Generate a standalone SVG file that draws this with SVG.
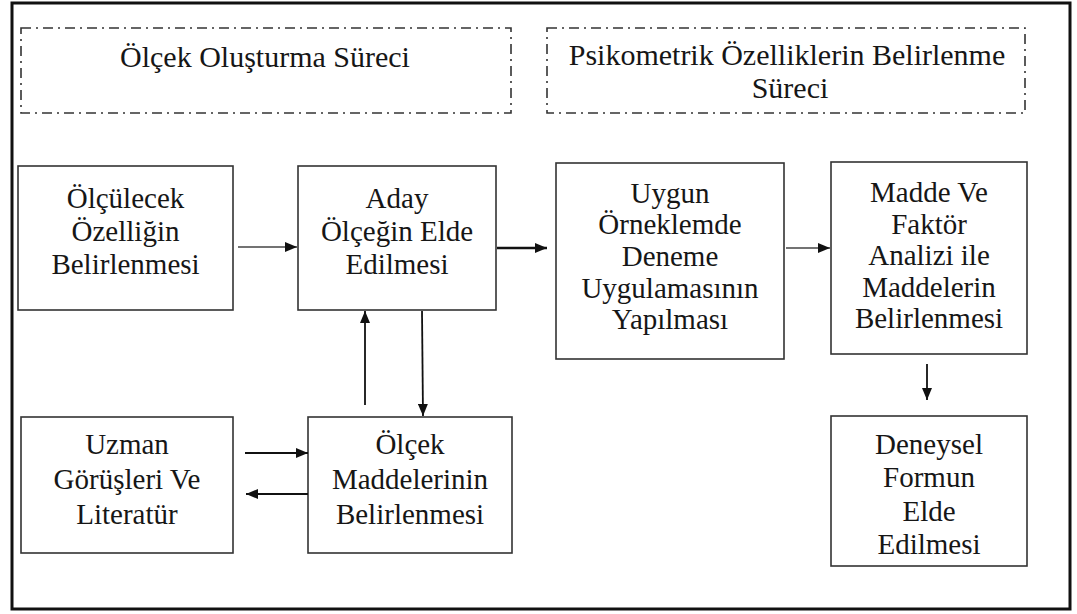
<svg xmlns="http://www.w3.org/2000/svg" width="1077" height="614" viewBox="0 0 1077 614">
<style>
  .frame{fill:none;stroke:#111;stroke-width:3}
  .dash{fill:none;stroke:#333;stroke-width:1.6;stroke-dasharray:10 5 2 5}
  .box{fill:#fff;stroke:#333;stroke-width:1.6}
  text{font-family:"Liberation Serif","Times New Roman",serif;font-size:29px;fill:#161616;text-anchor:middle}
  .h{font-size:30px}
  .ln{stroke:#111;stroke-width:1.8;fill:none}
  .thin{stroke:#444;stroke-width:1.4}
  .thick{stroke-width:2.6}
</style>
<defs>
  <marker id="ah" viewBox="0 0 12 10" refX="12" refY="5" markerWidth="12" markerHeight="10" markerUnits="userSpaceOnUse" orient="auto">
    <path d="M0,0 L12,5 L0,10 Z" fill="#111"/>
  </marker>
</defs>
<rect width="1077" height="614" fill="#fff"/>
<rect class="frame" x="12" y="3" width="1058" height="606"/>

<g id="section1" font-family="Liberation Serif, serif">
  <rect class="dash" x="21" y="28" width="490" height="85"/>
  <text class="h" x="265" y="67">Ölçek Oluşturma Süreci</text>
</g>
<g id="section2" font-family="Liberation Serif, serif">
  <rect class="dash" x="547" y="28" width="478" height="85"/>
  <text class="h" x="787" y="65">Psikometrik Özelliklerin Belirlenme</text>
  <text class="h" x="790" y="98">Süreci</text>
</g>

<g id="nodeA" font-family="Liberation Serif, serif">
  <rect class="box" x="18" y="166" width="215" height="144"/>
  <text x="125.5" y="208">Ölçülecek</text>
  <text x="125.5" y="241">Özelliğin</text>
  <text x="125.5" y="274">Belirlenmesi</text>
</g>
<g id="nodeB" font-family="Liberation Serif, serif">
  <rect class="box" x="298" y="166" width="198" height="144"/>
  <text x="397" y="208">Aday</text>
  <text x="397" y="241">Ölçeğin Elde</text>
  <text x="397" y="274">Edilmesi</text>
</g>
<g id="nodeC" font-family="Liberation Serif, serif">
  <rect class="box" x="556" y="163" width="228" height="196"/>
  <text x="670" y="203">Uygun</text>
  <text x="670" y="234">Örneklemde</text>
  <text x="670" y="266">Deneme</text>
  <text x="670" y="298">Uygulamasının</text>
  <text x="670" y="329">Yapılması</text>
</g>
<g id="nodeD" font-family="Liberation Serif, serif">
  <rect class="box" x="831" y="162" width="196" height="192"/>
  <text x="929" y="202">Madde Ve</text>
  <text x="929" y="234">Faktör</text>
  <text x="929" y="265">Analizi ile</text>
  <text x="929" y="297">Maddelerin</text>
  <text x="929" y="328">Belirlenmesi</text>
</g>
<g id="nodeE" font-family="Liberation Serif, serif">
  <rect class="box" x="831" y="416" width="196" height="150"/>
  <text x="929" y="454">Deneysel</text>
  <text x="929" y="487">Formun</text>
  <text x="929" y="521">Elde</text>
  <text x="929" y="554">Edilmesi</text>
</g>
<g id="nodeF" font-family="Liberation Serif, serif">
  <rect class="box" x="21" y="417" width="212" height="136"/>
  <text x="127" y="454">Uzman</text>
  <text x="127" y="489">Görüşleri Ve</text>
  <text x="127" y="524">Literatür</text>
</g>
<g id="nodeG" font-family="Liberation Serif, serif">
  <rect class="box" x="308" y="417" width="204" height="136"/>
  <text x="410" y="454">Ölçek</text>
  <text x="410" y="489">Maddelerinin</text>
  <text x="410" y="524">Belirlenmesi</text>
</g>

<g id="connectors">
  <line class="ln thin" x1="238" y1="247" x2="297" y2="247" marker-end="url(#ah)"/>
  <line class="ln thick" x1="497" y1="248" x2="547" y2="248" marker-end="url(#ah)"/>
  <line class="ln thin" x1="786" y1="248" x2="830" y2="248" marker-end="url(#ah)"/>
  <line class="ln" x1="927" y1="364" x2="927" y2="400" marker-end="url(#ah)"/>
  <line class="ln" x1="365" y1="405" x2="365" y2="311" marker-end="url(#ah)"/>
  <line class="ln" x1="422" y1="311" x2="423" y2="416" marker-end="url(#ah)"/>
  <line class="ln" x1="245" y1="453" x2="308" y2="453" marker-end="url(#ah)"/>
  <line class="ln" x1="308" y1="494" x2="246" y2="494" marker-end="url(#ah)"/>
</g>
</svg>
